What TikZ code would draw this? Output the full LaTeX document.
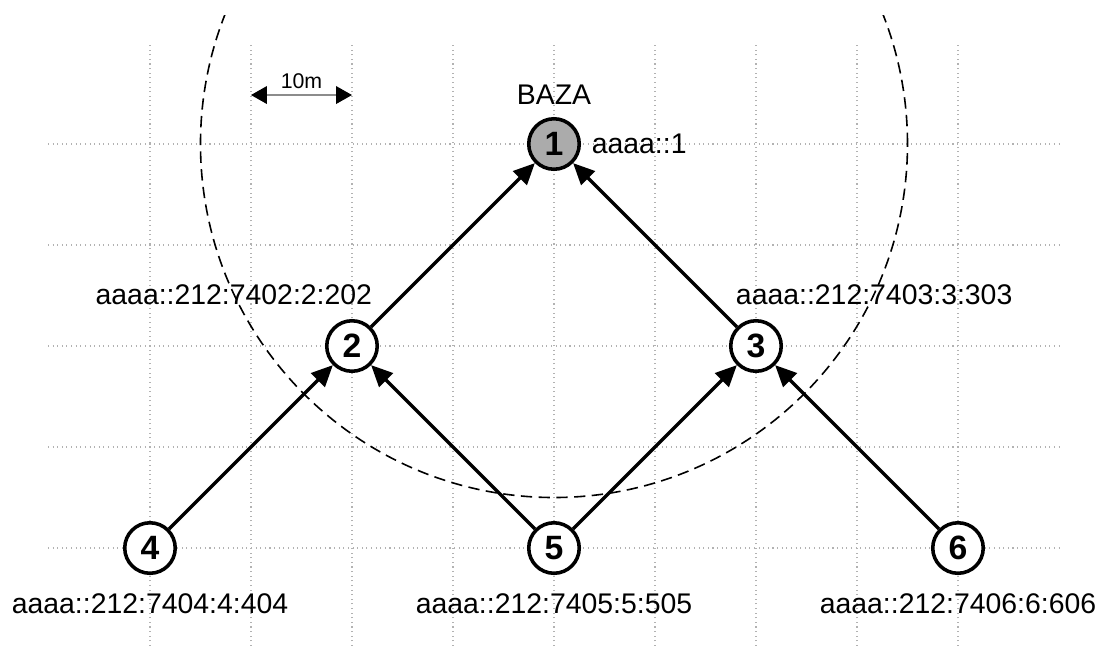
\documentclass[tikz,border=0pt]{standalone}
\usepackage{fontspec}
\setmainfont{Liberation Sans}
\usepackage{tikz}
\usetikzlibrary{arrows.meta}
\usetikzlibrary{positioning}
\usetikzlibrary{calc}

\begin{document}
\begin{tikzpicture}[
    mote/.style={circle, draw, line width=1pt, fill=white, inner sep=0pt, minimum size=5mm, font=\fontsize{9.5}{11}\selectfont\bfseries},
    basemote/.style={mote, fill=black!33},
    addr/.style={inner sep=0pt, font=\fontsize{8}{9.6}\selectfont},
    link/.style={-{Triangle[length=6pt, width=5.4pt]}, line width=0.95pt},
    gridline/.style={densely dotted, black!30, line width=0.3pt},
    radiorange/.style={dash pattern=on 3.2pt off 1.8pt, line width=0.45pt},
    scalebar/.style={{Triangle[length=4.5pt, width=5pt, black]}-{Triangle[length=4.5pt, width=5pt, black]}, black!45, line width=0.35pt}]
    \useasboundingbox (-1.485,-0.970) rectangle (9.416,5.426);

    % Grid
    \foreach \x in {0,...,8}
        \draw[gridline] (\x,-0.97) -- (\x,5);
    \foreach \y in {0,...,4}
        \draw[gridline] (-1.01,\y) -- (9,\y);

    % Scale
    \coordinate (s1) at (1,4.485);
    \coordinate (s2) at (2,4.485);
    \draw[scalebar] (s1) -- (s2) node[midway, above=0.6mm, black, inner sep=0pt, font=\fontsize{6}{7}\selectfont] {10m};

    % Define vertices
    \node[basemote] (n1) at (4,4) {1};
    \node[mote] (n2) at (2,2) {2};
    \node[mote] (n3) at (6,2) {3};
    \node[mote] (n4) at (0,0) {4};
    \node[mote] (n5) at (4,0) {5};
    \node[mote] (n6) at (8,0) {6};

    % Radio range of the base
    \begin{scope}
        \clip (-1.5,-1) rectangle (9.5,5.27);
        \draw[radiorange] (n1.center) circle[radius=3.5];
    \end{scope}

    % Draw edges
    \draw[link] (n2) -- (n1);
    \draw[link] (n3) -- (n1);
    \draw[link] (n4) -- (n2);
    \draw[link] (n5) -- (n2);
    \draw[link] (n5) -- (n3);
    \draw[link] (n6) -- (n3);

    % Addresses
    \node[addr, above=1.2mm of n1] (baza) {BAZA};
    \node[addr, right=1mm of n1] (a1) {aaaa::1};
    \node[addr, above=1.3mm of n2, xshift=-1.17cm] (a2) {aaaa::212:7402:2:202};
    \node[addr, above=1.3mm of n3, xshift=1.17cm] (a3) {aaaa::212:7403:3:303};
    \node[addr, below=1.8mm of n4] (a4) {aaaa::212:7404:4:404};
    \node[addr, below=1.8mm of n5] (a5) {aaaa::212:7405:5:505};
    \node[addr, below=1.8mm of n6] (a6) {aaaa::212:7406:6:606};
\end{tikzpicture}
\end{document}
